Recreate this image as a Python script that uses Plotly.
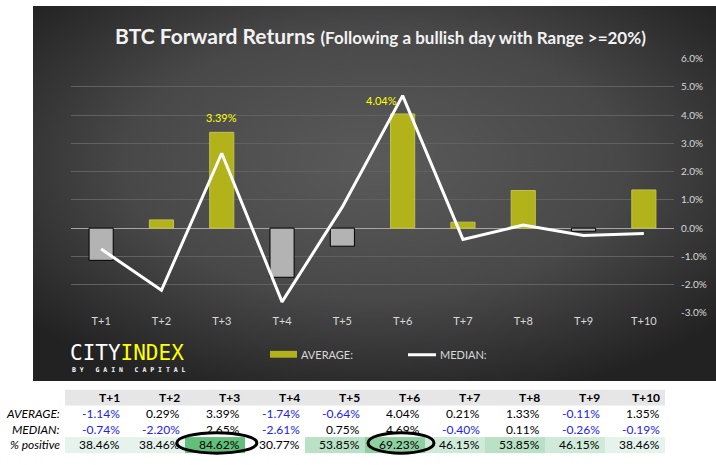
import base64
import plotly.graph_objects as go

# ---------------- data ----------------
categories = ["T+1", "T+2", "T+3", "T+4", "T+5", "T+6", "T+7", "T+8", "T+9", "T+10"]
average = [-1.14, 0.29, 3.39, -1.74, -0.64, 4.04, 0.21, 1.33, -0.11, 1.35]
median = [-0.74, -2.20, 2.65, -2.61, 0.75, 4.69, -0.40, 0.11, -0.26, -0.19]
pct_positive = [38.46, 38.46, 84.62, 30.77, 53.85, 69.23, 46.15, 53.85, 46.15, 38.46]
ytick_vals = [6, 5, 4, 3, 2, 1, 0, -1, -2, -3]
row_labels = ["AVERAGE:", "MEDIAN:", "% positive"]
labelled_idx = [2, 5]
circled_idx = [2, 5]

# ---------------- style ----------------
W, H = 716, 465
FONT = "Lato"
OLIVE = "#b2b21b"
GREY_BAR = "#b3b3b3"
TXT = "#d9d9d9"
BLUE = "#2020ff"
label_offsets = {2: (0, 15), 5: (-21, 13)}
circle_geom = {2: (0.03, 0.667), 5: (0.1, 0.55)}
ROW_H = 16.2
TFS = 12


def fx(px):
    return px / W


def fy(py):
    return 1 - py / H


fig = go.Figure()

# background panel with radial gradient
svg = (
    '<svg xmlns="http://www.w3.org/2000/svg" width="683" height="385" '
    'viewBox="0 0 683 385" preserveAspectRatio="none">'
    '<defs><radialGradient id="g" cx="0.5" cy="0.42" r="0.66">'
    '<stop offset="0" stop-color="#5a5a5a"/><stop offset="0.55" stop-color="#484848"/>'
    '<stop offset="1" stop-color="#222222"/></radialGradient></defs>'
    '<rect width="683" height="385" fill="url(#g)"/></svg>'
)
src = "data:image/svg+xml;base64," + base64.b64encode(svg.encode()).decode()
fig.add_layout_image(source=src, xref="paper", yref="paper", x=fx(33), y=1,
                     sizex=fx(716) - fx(33), sizey=385 / H, xanchor="left",
                     yanchor="top", sizing="stretch", layer="below")

# bars (average)
fig.add_trace(go.Bar(
    x=categories, y=average, width=0.4,
    marker=dict(color=[OLIVE if v >= 0 else GREY_BAR for v in average],
                line=dict(color=["#c4c44a" if v >= 0 else "#000000" for v in average], width=1)),
    hoverinfo="skip", showlegend=False, xaxis="x", yaxis="y"))

# median line
fig.add_trace(go.Scatter(
    x=categories, y=median, mode="lines", line=dict(color="white", width=3),
    hoverinfo="skip", showlegend=False, xaxis="x", yaxis="y"))

# data labels
for i in labelled_idx:
    dx, dy = label_offsets[i]
    fig.add_annotation(x=categories[i], y=average[i], xref="x", yref="y",
                       text=f"{average[i]:.2f}%", showarrow=False,
                       xshift=dx, yshift=dy, yanchor="middle",
                       font=dict(family=FONT, size=11, color="#ffff00"))

# title
fig.add_annotation(
    xref="paper", yref="paper", x=fx(381), y=fy(30), xanchor="center", yanchor="middle",
    text="<b>BTC Forward Returns</b> <span style='font-size:17px'><b>(Following a bullish day with Range &gt;=20%)</b></span>",
    showarrow=False, font=dict(family=FONT, size=21, color="#f2f2f2"))

# legend (custom)
fig.add_shape(type="rect", xref="paper", yref="paper", x0=fx(270), x1=fx(297),
              y0=fy(361), y1=fy(354), fillcolor=OLIVE, line=dict(width=0))
fig.add_shape(type="line", xref="paper", yref="paper", x0=fx(408), x1=fx(436),
              y0=fy(358), y1=fy(358), line=dict(color="white", width=3))
fig.add_annotation(xref="paper", yref="paper", x=fx(299), y=fy(357.5), xanchor="left",
                   yanchor="middle", text="AVERAGE:", showarrow=False,
                   font=dict(family=FONT, size=11, color=TXT))
fig.add_annotation(xref="paper", yref="paper", x=fx(438), y=fy(357.5), xanchor="left",
                   yanchor="middle", text="MEDIAN:", showarrow=False,
                   font=dict(family=FONT, size=11, color=TXT))

# logo
fig.add_annotation(xref="paper", yref="paper", x=fx(68), y=fy(356), xanchor="left",
                   yanchor="middle",
                   text="<span style='color:#ffffff'>CITY</span><span style='color:#ffff00'>INDEX</span>",
                   showarrow=False, font=dict(family="DejaVu Sans Mono", size=21, color="white"))
sub = "\u00a0\u00a0\u00a0".join(" ".join(w) for w in ["BY", "GAIN", "CAPITAL"])
fig.add_annotation(xref="paper", yref="paper", x=fx(70), y=fy(374), xanchor="left",
                   yanchor="middle", text=f"<b>{sub}</b>", showarrow=False,
                   font=dict(family="DejaVu Sans Mono", size=6.5, color="white"))

# ---------------- table ----------------
ncol = len(categories)
fig.add_trace(go.Heatmap(
    x=[j - 0.5 for j in range(ncol + 1)], y=[2.5, 3.5], z=[pct_positive],
    zmin=min(pct_positive), zmax=max(pct_positive),
    colorscale=[[0, "#fcfcff"], [1, "#63be7b"]], showscale=False,
    hoverinfo="skip", xaxis="x3", yaxis="y3"))
fig.add_shape(type="rect", xref="x3", yref="y3", x0=-0.5, x1=ncol - 0.5, y0=-0.5, y1=0.5,
              fillcolor="#e7e6e6", line=dict(width=0), layer="below")

for j, c in enumerate(categories):
    fig.add_annotation(xref="x3", yref="y3", x=j + 0.5, y=0, xanchor="right", yanchor="middle",
                       xshift=-3, text=f"<b>{c}</b>", showarrow=False,
                       font=dict(family=FONT, size=TFS, color="black"))
    for r, vals in enumerate([average, median], start=1):
        v = vals[j]
        fig.add_annotation(xref="x3", yref="y3", x=j + 0.5, y=r, xanchor="right",
                           yanchor="middle", xshift=-3, text=f"{v:.2f}%", showarrow=False,
                           font=dict(family=FONT, size=TFS, color=BLUE if v < 0 else "black"))
    fig.add_annotation(xref="x3", yref="y3", x=j + 0.5, y=3, xanchor="right", yanchor="middle",
                       xshift=-3, text=f"{pct_positive[j]:.2f}%", showarrow=False,
                       font=dict(family=FONT, size=TFS, color="black"))

for r, lab in enumerate(row_labels, start=1):
    fig.add_annotation(xref="x3", yref="y3", x=-0.5, y=r, xanchor="right", yanchor="middle",
                       xshift=-3, text=f"<i>{lab}</i>", showarrow=False,
                       font=dict(family=FONT, size=TFS, color="black"))

for i in circled_idx:
    cx, half = circle_geom[i]
    fig.add_shape(type="circle", xref="x3", yref="y3", x0=i + cx - half, x1=i + cx + half,
                  y0=3 - 0.78, y1=3 + 0.52, line=dict(color="black", width=3),
                  fillcolor="rgba(0,0,0,0)", layer="above")

x3_lo = -0.5 - 65 / 60
y3_top = -(402 - 385) / ROW_H
y3_bot = (465 - 402) / ROW_H

fig.update_layout(
    width=W, height=H, margin=dict(l=0, r=0, t=0, b=0),
    paper_bgcolor="white", plot_bgcolor="rgba(0,0,0,0)",
    showlegend=False, bargap=0.6,
    xaxis=dict(domain=[fx(71), fx(674)], type="category", range=[-0.5, ncol - 0.5],
               showgrid=False, zeroline=False, showline=False, ticks="",
               tickfont=dict(family=FONT, size=11, color=TXT), anchor="y", fixedrange=True),
    yaxis=dict(domain=[fy(315), fy(54)], range=[-3, 6], side="right", anchor="x",
               tickvals=ytick_vals, ticktext=[f"{v:.1f}%" for v in ytick_vals],
               showgrid=True, gridcolor="#616161", gridwidth=1,
               zeroline=True, zerolinecolor="#a6a6a6", zerolinewidth=1,
               showline=False, ticks="", ticklabelstandoff=6,
               tickfont=dict(family=FONT, size=10, color=TXT),
               fixedrange=True),
    xaxis3=dict(domain=[0, 1], range=[x3_lo, x3_lo + W / 60], visible=False, anchor="y3",
                fixedrange=True),
    yaxis3=dict(domain=[0, fy(385)], range=[y3_bot, y3_top], visible=False, anchor="x3",
                fixedrange=True),
)

fig.write_html("out.html")
